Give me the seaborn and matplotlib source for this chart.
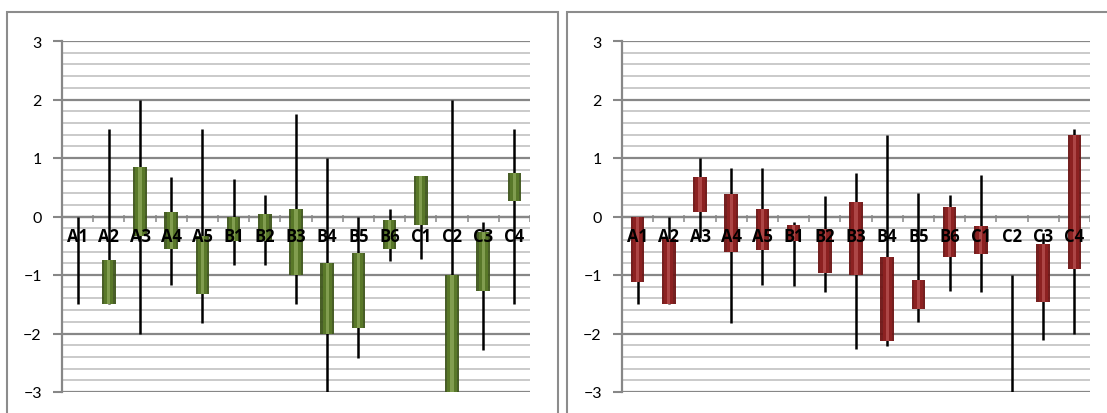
import numpy as np
import pandas as pd
import matplotlib
matplotlib.use("Agg")
import matplotlib.pyplot as plt
from matplotlib.patches import Rectangle
import seaborn as sns

categories = ['A1', 'A2', 'A3', 'A4', 'A5', 'B1', 'B2', 'B3', 'B4', 'B5', 'B6', 'C1', 'C2', 'C3', 'C4']

# left panel (green)
g_high = [0.0, 1.5, 2.0, 0.67, 1.5, 0.64, 0.37, 1.75, 1.0, 0.0, 0.13, 0.7, 2.0, -0.1, 1.5]
g_low = [-1.5, -1.5, -2.0, -1.17, -1.82, -0.83, -0.83, -1.5, -3.0, -2.42, -0.76, -0.72, -3.0, -2.28, -1.5]
g_top = [-0.2, -0.75, 0.85, 0.08, -0.33, 0.0, 0.05, 0.13, -0.8, -0.62, -0.06, 0.7, -1.0, -0.27, 0.75]
g_bot = [-0.2, -1.5, -0.33, -0.55, -1.33, -0.42, -0.42, -1.0, -2.0, -1.9, -0.56, -0.15, -3.0, -1.27, 0.26]

# right panel (red)
r_high = [0.0, 0.0, 1.0, 0.83, 0.83, -0.1, 0.35, 0.74, 1.39, 0.4, 0.36, 0.71, -1.0, -0.29, 1.49]
r_low = [-1.5, -1.5, -0.36, -1.82, -1.17, -1.19, -1.29, -2.27, -2.21, -1.8, -1.27, -1.29, -3.0, -2.11, -2.0]
r_top = [0.0, -0.38, 0.67, 0.38, 0.13, -0.14, -0.22, 0.24, -0.7, -1.09, 0.16, -0.16, -1.0, -0.47, 1.39]
r_bot = [-1.12, -1.5, 0.07, -0.6, -0.58, -0.42, -0.96, -1.0, -2.12, -1.58, -0.69, -0.64, -1.0, -1.46, -0.89]

y_ticks = [-3, -2, -1, 0, 1, 2, 3]

sns.set_theme(style="white")
plt.rcParams['font.family'] = ['Lato', 'DejaVu Sans']

W, H = 1107, 414
fig = plt.figure(figsize=(W / 100, H / 100), dpi=100)
fig.patch.set_facecolor('white')

# panel borders
for x0, x1 in [(7, 558), (567, 1125)]:
    fig.patches.append(Rectangle((x0 / W, -0.05), (x1 - x0) / W, (H - 13) / H + 0.05,
                                 transform=fig.transFigure, fill=False,
                                 edgecolor='#8C8C8C', lw=1.5, zorder=0))

grid_major = '#878787'
grid_minor = '#C6C6C6'


def draw_panel(left_px, high, low, top, bot, dark, mid, light):
    ax = fig.add_axes([left_px / W, 1 - 393 / H, 468 / W, 351 / H])
    ax.set_facecolor('none')
    df = pd.DataFrame({'cat': categories,
                       'height': np.array(top) - np.array(bot)})
    xs = np.arange(len(categories))
    # wicks
    ax.vlines(xs, low, high, color='black', lw=1.8, zorder=2)
    # boxes (outer dark, inner lighter stripe)
    sns.barplot(data=df, x='cat', y='height', bottom=bot, ax=ax, width=0.44,
                color=dark, saturation=1, linewidth=0, alpha=0.95, zorder=3)
    sns.barplot(data=df, x='cat', y='height', bottom=bot, ax=ax, width=0.3,
                color=mid, saturation=1, linewidth=0, alpha=0.95, zorder=3.1)
    sns.barplot(data=df, x='cat', y='height', bottom=bot, ax=ax, width=0.1,
                color=light, saturation=1, linewidth=0, alpha=0.6, zorder=3.2)
    ax.set_xlim(-0.5, len(categories) - 0.5)
    ax.set_ylim(-3, 3)
    ax.set_yticks(y_ticks)
    ax.set_yticks(np.round(np.arange(-3, 3.01, 0.2), 2), minor=True)
    ax.grid(which='major', axis='y', color=grid_major, lw=1.6, zorder=0)
    ax.grid(which='minor', axis='y', color=grid_minor, lw=1.3, zorder=0)
    ax.grid(which='major', axis='x', visible=False)
    ax.set_axisbelow(True)
    ax.set_xticks([])
    ax.set_xlabel('')
    ax.set_ylabel('')
    for s in ['top', 'right', 'bottom']:
        ax.spines[s].set_visible(False)
    ax.spines['left'].set_color(grid_major)
    ax.spines['left'].set_linewidth(1.6)
    ax.tick_params(axis='y', which='major', direction='out', length=6.5, width=1.5,
                   color=grid_major, pad=8, labelsize=11.5, labelcolor='black', left=True)
    ax.tick_params(axis='y', which='minor', length=0)
    # category boundary ticks on the x axis at 0
    bounds = np.arange(len(categories)) + 0.5
    ax.vlines(bounds, -0.09, 0.03, color='#9A9A9A', lw=1.3, zorder=1)
    ax.axhline(0, color=grid_major, lw=1.6, zorder=1)
    for i, c in enumerate(categories):
        ax.text(i, -0.34, c, ha='center', va='center', fontsize=12,
                fontweight='bold', family=['Open Sans', 'DejaVu Sans'],
                color='black', zorder=6)
    return ax


draw_panel(62, g_high, g_low, g_top, g_bot, '#3F561C', '#5A7A2A', '#9DB86A')
draw_panel(622, r_high, r_low, r_top, r_bot, '#6E1414', '#8E2222', '#C46060')

fig.savefig('out.png', dpi=100, facecolor='white')
